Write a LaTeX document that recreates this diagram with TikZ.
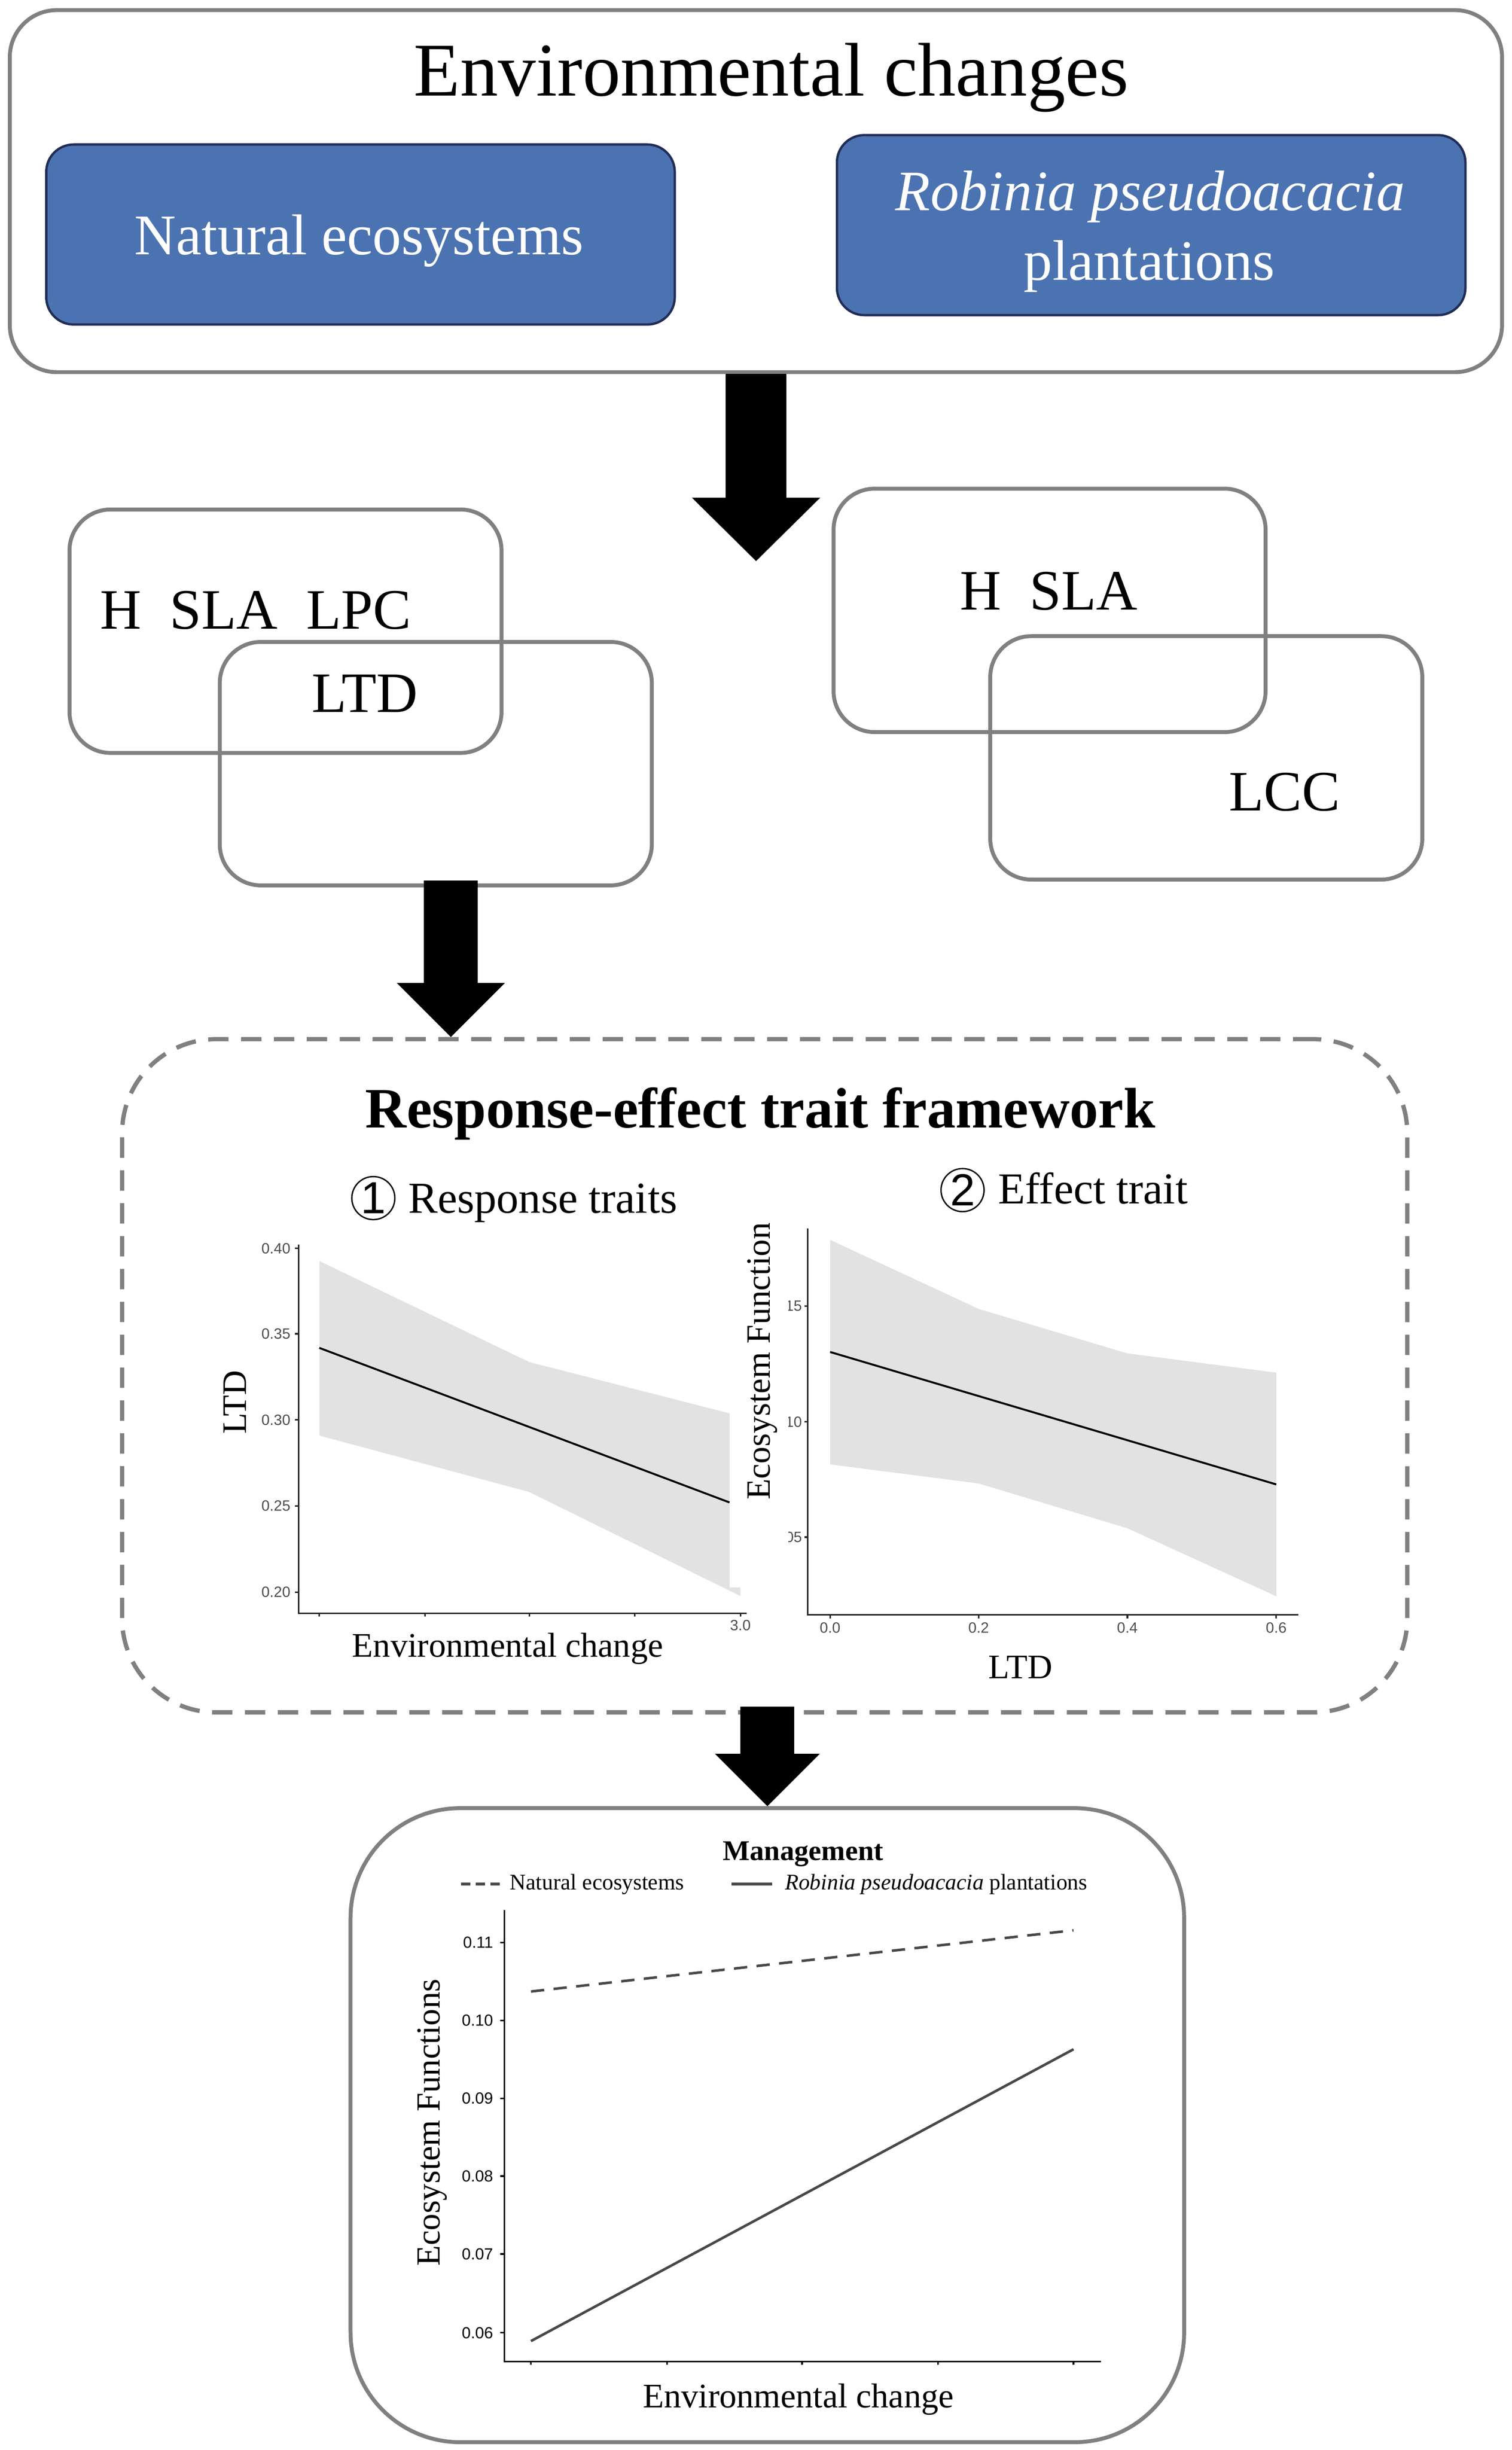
\documentclass[tikz,border=0pt]{standalone}
\usepackage{fontspec}
\setmainfont{Liberation Serif}
\setsansfont{Liberation Sans}
\usetikzlibrary{arrows.meta}

\definecolor{edgegray}{RGB}{128,128,128}
\definecolor{popblue}{RGB}{76,115,177}
\definecolor{popedge}{RGB}{32,45,86}
\definecolor{bandgray}{RGB}{226,226,226}
\definecolor{ticktxt}{RGB}{77,77,77}
\definecolor{trendgray}{RGB}{72,72,72}

\begin{document}
\begin{tikzpicture}[x=0.4pt, y=-0.4pt, every node/.style={inner sep=0pt},
  framebox/.style={shape=rectangle, draw=edgegray, line width=1pt},
  setbox/.style={framebox, rounded corners=10.5pt, minimum width=110.4pt, minimum height=62.2pt},
  popbox/.style={shape=rectangle, draw=popedge, fill=popblue, line width=0.6pt, rounded corners=7pt, minimum width=160.6pt, minimum height=46pt},
  blockarrow/.style n args={3}{line width=#1, -{Triangle[width=#2, length=#3, line width=0pt]}},
  traitlbl/.style={anchor=base, font=\fontsize{14.6}{17}\selectfont},
  axisttl/.style={anchor=base, font=\fontsize{8.8}{10}\selectfont},
  ticklbl/.style={font=\sffamily\fontsize{3.8}{4.5}\selectfont, text=ticktxt},
  mgmttick/.style={font=\sffamily\fontsize{4.1}{5}\selectfont},
  legendtxt/.style={anchor=base west, font=\fontsize{5.7}{7}\selectfont},
  axisline/.style={line width=0.4pt, draw=black!85},
  fitline/.style={line width=0.5pt, draw=black},
  trendline/.style={line width=0.65pt, draw=trendgray},
  band/.style={fill=bandgray, draw=none},
  numcirc/.style={shape=circle, draw, line width=0.35pt, minimum size=11pt, font=\sffamily\fontsize{11.5}{12}\selectfont}
]

\useasboundingbox (0,0) rectangle (965.8,1565);

% environmental changes and the two land types
\node [framebox, rounded corners=12pt, minimum width=381.3pt, minimum height=92.5pt] (envbox) at (482.9,122.1) {};
\node [anchor=base, font=\fontsize{19.4}{23}\selectfont] (envtitle) at (492.7,61.3) {Environmental changes};
\node [popbox] (natbox) at (230.3,149.8) {};
\node [anchor=base, text=white, font=\fontsize{14.7}{17}\selectfont] (nattext) at (229.4,162.6) {Natural ecosystems};
\node [popbox] (robbox) at (735.4,143.8) {};
\node [anchor=base, text=white, font=\fontsize{14.6}{17}\selectfont] (robtext) at (734.8,134.3) {\textit{Robinia pseudoacacia}};
\node [anchor=base, text=white, font=\fontsize{14.6}{17}\selectfont] (robtextb) at (734.2,178.9) {plantations};

% trait sets
\node [setbox] (natupper) at (182.4,403.2) {};
\node [setbox] (natlower) at (278.4,487.8) {};
\node [traitlbl] (natupperlbl) at (163.3,401.7) {H\ \ SLA\ \ LPC};
\node [traitlbl] (natlowerlbl) at (233,454.8) {LTD};
\node [setbox] (robupper) at (670.5,389.9) {};
\node [setbox] (roblower) at (770.6,484.1) {};
\node [traitlbl] (robupperlbl) at (670,389.5) {H\ \ SLA};
\node [traitlbl] (roblowerlbl) at (820.7,518) {LCC};

% framework
\node [framebox, line width=1.1pt, dash pattern=on 5.2pt off 3.2pt, rounded corners=24pt, minimum width=328.4pt, minimum height=172pt] (rebox) at (488.5,878.8) {};
\node [anchor=base, font=\bfseries\fontsize{14.6}{17}\selectfont] (retitle) at (485.8,720.4) {Response-effect trait framework};

% response traits plot
\node [numcirc] (numA) at (238.5,765.3) {1};
\node [anchor=base west, font=\fontsize{11.3}{13}\selectfont] (resptitle) at (260.3,774.8) {Response traits};
\fill [band] (204,805.5) -- (338,870) -- (466,902.8) -- (466,1014) -- (473,1014) -- (473,1019.5) -- (338,953) -- (204,917) -- cycle;
\draw [fitline] (204,861) -- (466,959.7);
\draw [axisline] (190.7,795) -- (190.7,1030.5) -- (476.9,1030.5);
\foreach \yv/\lbl [count=\i] in {797.4/0.40, 852/0.35, 907/0.30, 962/0.25, 1017/0.20} {
  \draw [axisline] (188.5,\yv) -- (190.7,\yv);
  \node [ticklbl, anchor=east] (respy\i) at (186,\yv) {\lbl};
}
\foreach \xv in {204,271.4,338.2,405.6,473}
  \draw [axisline] (\xv,1030.5) -- (\xv,1032.7);
\node [ticklbl, anchor=north] (respx) at (473,1034.3) {3.0};
\node [axisttl, rotate=90] (respylab) at (157.4,895.7) {LTD};
\node [axisttl] (respxlab) at (324.3,1058.4) {Environmental change};

% effect trait plot
\node [numcirc] (numB) at (614.9,760.2) {2};
\node [anchor=base west, font=\fontsize{11.3}{13}\selectfont] (efftitle) at (637.2,768.8) {Effect trait};
\fill [band] (530.3,792) -- (625.2,836.1) -- (720.2,864.5) -- (815.3,876.8) -- (815.3,1019.6) -- (720.2,976.2) -- (625.2,947.6) -- (530.3,935.4) -- cycle;
\draw [fitline] (530.3,863.6) -- (815.3,948.2);
\draw [axisline] (516,784.7) -- (516,1031.5) -- (829.3,1031.5);
\foreach \xv/\lbl [count=\i] in {530.3/0.0, 625.2/0.2, 720.2/0.4, 815.3/0.6} {
  \draw [axisline] (\xv,1031.5) -- (\xv,1033.7);
  \node [ticklbl, anchor=north] (effx\i) at (\xv,1035.8) {\lbl};
}
\begin{scope}
  \clip (503.8,800) rectangle (520,1000);
  \foreach \yv/\lbl [count=\i] in {834.2/0.15, 908.2/0.10, 981.9/0.05} {
    \draw [axisline] (513.8,\yv) -- (516,\yv);
    \node [ticklbl, anchor=east] (effy\i) at (512.8,\yv) {\lbl};
  }
\end{scope}
\begin{scope}
  \clip (465,781.5) rectangle (503,1000);
  \node [axisttl, font=\fontsize{8.7}{10}\selectfont, rotate=90] (effylab) at (491.8,869.5) {Ecosystem Function};
\end{scope}
\node [axisttl] (effxlab) at (651.9,1072.2) {LTD};

% management plot
\node [framebox, rounded corners=28pt, minimum width=213pt, minimum height=162pt] (mgmtbox) at (490.2,1357.5) {};
\node [anchor=base, font=\bfseries\fontsize{7.3}{9}\selectfont] (mgmttitle) at (513.1,1188.3) {Management};
\draw [trendline, dash pattern=on 2.4pt off 1.4pt] (294.4,1203.5) -- (321,1203.5);
\node [legendtxt] (natkey) at (325.3,1207) {Natural ecosystems};
\draw [trendline] (467.4,1203.5) -- (493.3,1203.5);
\node [legendtxt] (robkey) at (501,1207) {\textit{Robinia pseudoacacia} plantations};
\draw [trendline, dash pattern=on 3.4pt off 2.4pt] (339.2,1272.1) -- (685.8,1233);
\draw [trendline] (339.2,1495.4) -- (685.8,1309);
\draw [axisline, draw=black] (322.2,1220.2) -- (322.2,1508.4) -- (703.3,1508.4);
\foreach \yv/\lbl [count=\i] in {1240.8/0.11, 1290.7/0.10, 1340.3/0.09, 1390/0.08, 1439.8/0.07, 1490.1/0.06} {
  \draw [axisline, draw=black] (319.5,\yv) -- (322.2,\yv);
  \node [mgmttick, anchor=east] (mgmty\i) at (315.5,\yv) {\lbl};
}
\foreach \xv in {339.2,426.1,512.4,599.2,685.8}
  \draw [axisline, draw=black] (\xv,1508.4) -- (\xv,1510.6);
\node [axisttl, font=\fontsize{8.6}{10}\selectfont, rotate=90] (mgmtylab) at (281,1355.8) {Ecosystem Functions};
\node [axisttl] (mgmtxlab) at (510,1537.8) {Environmental change};

% block arrows
\coordinate (a1tip) at (483,358.4);
\draw [blockarrow={15.6pt}{32.8pt}{16.2pt}] (a1tip |- envbox.south) -- (a1tip);
\coordinate (a2top) at (288,562.4);
\draw [blockarrow={13.8pt}{27.6pt}{13.8pt}] (a2top) -- (a2top |- rebox.north);
\draw [blockarrow={13.8pt}{26.8pt}{13.4pt}] ([yshift=2pt]mgmtbox.north |- rebox.south) -- (mgmtbox.north);

\end{tikzpicture}
\end{document}
